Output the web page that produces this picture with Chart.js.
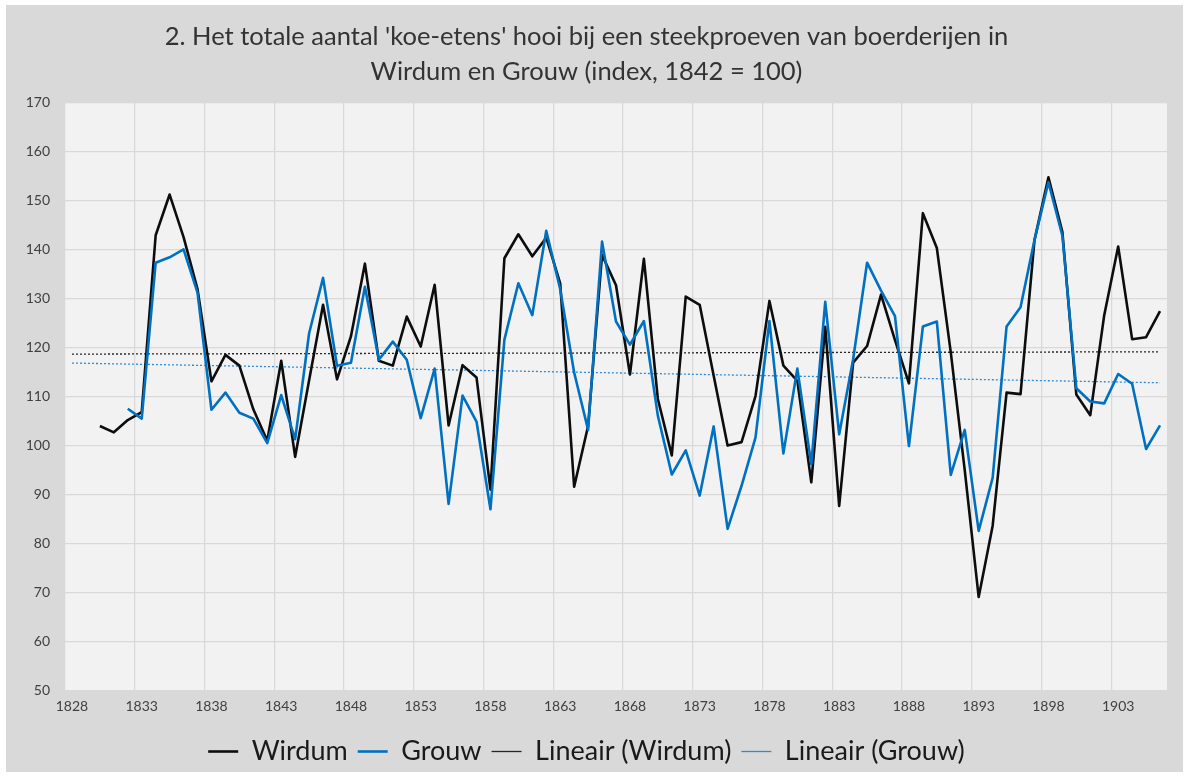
<!DOCTYPE html>
<html>
<head>
<meta charset="utf-8">
<script src="https://cdn.jsdelivr.net/npm/chart.js@4.4.1/dist/chart.umd.min.js"></script>
<style>
  body { margin: 0; background: #ffffff; }
  #box { position: absolute; left: 6px; top: 5px; width: 1177px; height: 767px; background: #d9d9d9; }
</style>
</head>
<body>
<div id="box"><canvas id="myChart"></canvas></div>
<script>
const years = [1828, 1829, 1830, 1831, 1832, 1833, 1834, 1835, 1836, 1837,
  1838, 1839, 1840, 1841, 1842, 1843, 1844, 1845, 1846, 1847,
  1848, 1849, 1850, 1851, 1852, 1853, 1854, 1855, 1856, 1857,
  1858, 1859, 1860, 1861, 1862, 1863, 1864, 1865, 1866, 1867,
  1868, 1869, 1870, 1871, 1872, 1873, 1874, 1875, 1876, 1877,
  1878, 1879, 1880, 1881, 1882, 1883, 1884, 1885, 1886, 1887,
  1888, 1889, 1890, 1891, 1892, 1893, 1894, 1895, 1896, 1897,
  1898, 1899, 1900, 1901, 1902, 1903, 1904, 1905, 1906];

// index, 1842 = 100
const wirdum = [null, null, 104.0, 102.7, 105.2, 106.8, 142.9, 151.2, 142.5, 131.9,
  113.1, 118.5, 116.3, 107.4, 101.0, 117.3, 97.7, 113.3, 128.7, 113.5,
  122.3, 137.1, 117.3, 116.3, 126.3, 120.2, 132.8, 104.1, 116.4, 113.9,
  91.0, 138.2, 143.1, 138.6, 142.4, 133.1, 91.6, 104.0, 138.9, 132.7,
  114.5, 138.1, 109.5, 98.0, 130.4, 128.7, 114.3, 100.0, 100.7, 110.1,
  129.5, 116.3, 113.2, 92.5, 124.2, 87.7, 116.9, 120.3, 130.8, 121.5,
  112.7, 147.4, 140.3, 119.0, 95.0, 69.1, 83.6, 110.8, 110.5, 141.9,
  154.7, 143.6, 110.4, 106.2, 126.6, 140.6, 121.7, 122.1, 127.4];

const grouw = [null, null, null, null, 107.5, 105.5, 137.3, 138.4, 140.0, 131.2,
  107.3, 110.8, 106.7, 105.5, 100.5, 110.3, 101.3, 122.9, 134.2, 116.3,
  116.9, 132.4, 117.5, 121.2, 117.5, 105.6, 115.7, 88.1, 110.2, 104.9,
  87.0, 121.6, 133.1, 126.6, 143.8, 131.9, 114.9, 103.2, 141.6, 125.3,
  120.6, 125.4, 106.1, 94.1, 99.0, 89.8, 103.9, 83.0, 91.8, 101.6,
  125.4, 98.4, 115.7, 96.2, 129.3, 102.3, 117.6, 137.3, 131.6, 126.4,
  99.9, 124.3, 125.3, 94.0, 103.2, 82.6, 93.4, 124.3, 128.2, 141.9,
  153.7, 142.8, 111.7, 109.0, 108.6, 114.6, 112.6, 99.3, 104.1];

const yTicks = { min: 50, max: 170, step: 10 };

// linear trendline (least squares on category index), like Excel's "Lineair"
function trend(values) {
  let n = 0, sx = 0, sy = 0, sxx = 0, sxy = 0;
  values.forEach((v, i) => {
    if (v === null) return;
    n++; sx += i; sy += v; sxx += i * i; sxy += i * v;
  });
  const b = (n * sxy - sx * sy) / (n * sxx - sx * sx);
  const a = (sy - b * sx) / n;
  return values.map((v, i) => a + b * i);
}

const plotBg = {
  id: "plotBg",
  beforeDraw(chart) {
    const { ctx, chartArea: a } = chart;
    ctx.save();
    ctx.fillStyle = "#f2f2f2";
    ctx.fillRect(a.left, a.top, a.right - a.left, a.bottom - a.top);
    ctx.restore();
  },
};

Chart.defaults.font.family = "Lato, 'Open Sans', sans-serif";

new Chart(document.getElementById("myChart"), {
  type: "line",
  data: {
    labels: years.map(String),
    datasets: [
      {
        label: "Wirdum",
        data: wirdum,
        borderColor: "#0d0d0d",
        backgroundColor: "#0d0d0d",
        borderWidth: 2.6,
        pointStyle: "line",
        order: 1,
      },
      {
        label: "Grouw",
        data: grouw,
        borderColor: "#0070c0",
        backgroundColor: "#0070c0",
        borderWidth: 2.6,
        pointStyle: "line",
        order: 0,
      },
      {
        label: "Lineair (Wirdum)",
        data: trend(wirdum),
        borderColor: "#262626",
        backgroundColor: "#262626",
        borderWidth: 1.3,
        borderDash: [2, 2],
        pointStyle: "line",
        order: 2,
      },
      {
        label: "Lineair (Grouw)",
        data: trend(grouw),
        borderColor: "#2e8ad6",
        backgroundColor: "#2e8ad6",
        borderWidth: 1.3,
        borderDash: [2, 2],
        pointStyle: "line",
        order: 3,
      },
    ],
  },
  options: {
    responsive: true,
    maintainAspectRatio: false,
    devicePixelRatio: 1,
    animation: false,
    elements: {
      point: { radius: 0, hoverRadius: 0 },
      line: { tension: 0, borderJoinStyle: "round", borderCapStyle: "butt" },
    },
    layout: { padding: { left: 0, right: 16, top: 0, bottom: -3 } },
    plugins: {
      title: {
        display: true,
        text: [
          "2. Het totale aantal 'koe-etens' hooi bij een steekproeven van boerderijen in",
          "Wirdum en Grouw (index, 1842 = 100)",
        ],
        color: "#333333",
        font: { size: 25.5, weight: "normal", lineHeight: 1.37 },
        padding: { top: 14.5, bottom: 13 },
      },
      legend: {
        position: "bottom",
        labels: {
          usePointStyle: true,
          pointStyleWidth: 30,
          boxWidth: 30,
          color: "#1a1a1a",
          padding: 10,
          font: { size: 27 },
          sort: (a, b) => a.datasetIndex - b.datasetIndex,
        },
      },
      tooltip: { enabled: false },
    },
    scales: {
      x: {
        offset: true,
        grid: {
          offset: true,
          drawTicks: false,
          color: (c) => (c.index % 5 === 0 ? "#d9d9d9" : "rgba(0,0,0,0)"),
          lineWidth: 1.3,
        },
        border: { display: false },
        ticks: {
          autoSkip: false,
          maxRotation: 0,
          padding: 7,
          color: "#404040",
          font: { size: 14 },
          callback: (v, i) => (i % 5 === 0 ? years[i] : ""),
        },
        afterFit: (s) => { s.height = 37.3; },
      },
      y: {
        min: yTicks.min,
        max: yTicks.max,
        grid: { color: "#d9d9d9", lineWidth: 1.3, drawTicks: false },
        border: { display: false },
        ticks: {
          stepSize: yTicks.step,
          padding: 15,
          color: "#404040",
          font: { size: 14 },
        },
        afterFit: (s) => { s.width = 59; },
      },
    },
  },
  plugins: [plotBg],
});
</script>
</body>
</html>
